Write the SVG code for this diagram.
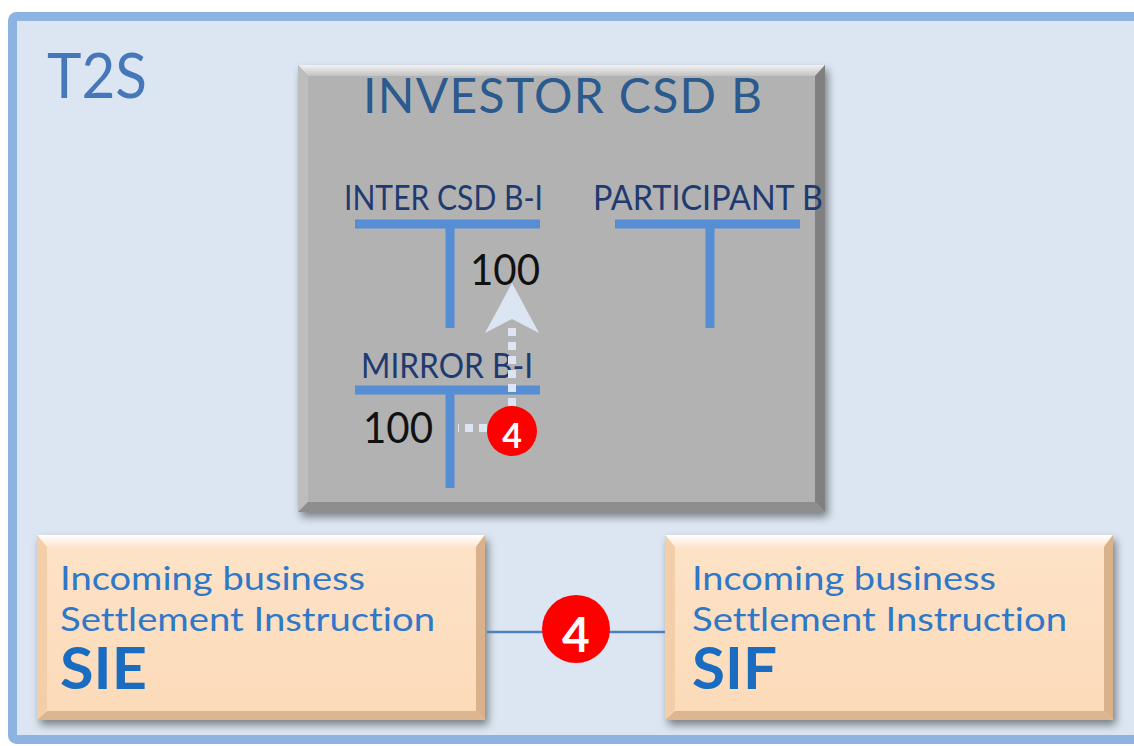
<svg xmlns="http://www.w3.org/2000/svg" width="1134" height="746" viewBox="0 0 1134 746">
  <defs>
    <style>
      text { font-variant-ligatures: none; }
      .lato { font-family: Lato, "Open Sans", "Liberation Sans", sans-serif; }
      .acct { font-family: Lato, "Liberation Sans", sans-serif; fill: #1f3a70; font-size: 34px; }
      .num { font-family: Lato, "Liberation Sans", sans-serif; fill: #111; font-size: 42px; }
      .peach-txt { font-family: Lato, "Liberation Sans", sans-serif; fill: #2f78c8; font-size: 32px; }
      .peach-big { font-family: Lato, "Liberation Sans", sans-serif; fill: #1a6cc0; font-size: 58px; font-weight: bold; }
      .tbar { stroke: #558ed5; stroke-width: 9; fill: none; }
      .badge { fill: #ff0000; }
      .badge-txt { font-family: Lato, "Liberation Sans", sans-serif; fill: #ffffff; font-weight: bold; text-anchor: middle; }
      .dotted { stroke: #dce6f2; stroke-width: 8; stroke-dasharray: 8 6; fill: none; }
    </style>
    <filter id="shadow" x="-10%" y="-10%" width="125%" height="130%">
      <feDropShadow dx="3" dy="5" stdDeviation="4" flood-color="#000" flood-opacity="0.45"/>
    </filter>
    <linearGradient id="grayTop" x1="0" y1="0" x2="0" y2="1">
      <stop offset="0" stop-color="#f2f2f2"/>
      <stop offset="1" stop-color="#c2c2c2"/>
    </linearGradient>
    <linearGradient id="peachFill" x1="0" y1="0" x2="0" y2="1">
      <stop offset="0" stop-color="#fde3c8"/>
      <stop offset="1" stop-color="#fcdab8"/>
    </linearGradient>
    <linearGradient id="peachTop" x1="0" y1="0" x2="0" y2="1">
      <stop offset="0" stop-color="#ffffff"/>
      <stop offset="1" stop-color="#fde6cf"/>
    </linearGradient>
  </defs>

  <rect x="0" y="0" width="1134" height="746" fill="#ffffff"/>

  <!-- T2S frame -->
  <g id="t2s">
    <rect x="12.5" y="16.5" width="1140" height="723" rx="4" fill="#dce6f2" stroke="#8db3e2" stroke-width="9"/>
    <text x="47" y="98" class="lato" font-size="62" fill="#4677b8" textLength="100" lengthAdjust="spacingAndGlyphs">T2S</text>
  </g>

  <!-- Investor CSD B -->
  <g id="investor-csd-b">
    <g filter="url(#shadow)">
      <rect x="298" y="65" width="527" height="447" fill="#b2b2b2"/>
    </g>
    <polygon points="298,65 825,65 815,76 308,76" fill="url(#grayTop)"/>
    <polygon points="298,65 308,76 308,502 298,512" fill="#bdbdbd"/>
    <polygon points="825,65 825,512 815,502 815,76" fill="#808080"/>
    <polygon points="298,512 825,512 815,502 308,502" fill="#8e8e8e"/>
    <text x="363" y="113" class="lato" font-size="48" fill="#2b5a8e" textLength="399" lengthAdjust="spacing">INVESTOR CSD B</text>
  </g>

  <g id="inter-csd-b-i">
    <text x="344" y="210" class="acct" textLength="199" lengthAdjust="spacingAndGlyphs">INTER CSD B-I</text>
    <path class="tbar" d="M355,224 H540 M450,224 V328"/>
    <text x="470" y="285" class="num" textLength="70" lengthAdjust="spacingAndGlyphs">100</text>
  </g>

  <g id="participant-b">
    <text x="593" y="210" class="acct" textLength="230" lengthAdjust="spacingAndGlyphs">PARTICIPANT B</text>
    <path class="tbar" d="M615,224 H800 M710,224 V328"/>
  </g>

  <g id="mirror-b-i">
    <text x="361" y="378" class="acct" font-size="32" textLength="172" lengthAdjust="spacingAndGlyphs">MIRROR B-I</text>
    <path class="tbar" d="M355,390 H540 M450,390 V488"/>
    <text x="363" y="443" class="num" textLength="70" lengthAdjust="spacingAndGlyphs">100</text>
  </g>

  <!-- SIE -->
  <g id="sie">
    <g filter="url(#shadow)">
      <rect x="37" y="535" width="448" height="185" fill="url(#peachFill)"/>
    </g>
    <polygon points="37,535 485,535 474,547 47,547" fill="url(#peachTop)"/>
    <polygon points="37,535 47,547 47,710 37,720" fill="#f3cfa9"/>
    <polygon points="485,535 485,720 476,711 476,547" fill="#d9b28c"/>
    <polygon points="37,720 485,720 476,711 47,711" fill="#dcb690"/>
    <text x="60" y="590" class="peach-txt" textLength="305" lengthAdjust="spacingAndGlyphs">Incoming business</text>
    <text x="60" y="631" class="peach-txt" textLength="375" lengthAdjust="spacingAndGlyphs">Settlement Instruction</text>
    <text x="60" y="689" class="peach-big" textLength="87" lengthAdjust="spacingAndGlyphs">SIE</text>
  </g>

  <!-- SIF -->
  <g id="sif">
    <g filter="url(#shadow)">
      <rect x="665" y="535" width="448" height="185" fill="url(#peachFill)"/>
    </g>
    <polygon points="665,535 1113,535 1102,547 675,547" fill="url(#peachTop)"/>
    <polygon points="665,535 675,547 675,710 665,720" fill="#f3cfa9"/>
    <polygon points="1113,535 1113,720 1104,711 1104,547" fill="#d9b28c"/>
    <polygon points="665,720 1113,720 1104,711 675,711" fill="#dcb690"/>
    <text x="692" y="590" class="peach-txt" textLength="304" lengthAdjust="spacingAndGlyphs">Incoming business</text>
    <text x="692" y="631" class="peach-txt" textLength="375" lengthAdjust="spacingAndGlyphs">Settlement Instruction</text>
    <text x="692" y="689" class="peach-big" textLength="85" lengthAdjust="spacingAndGlyphs">SIF</text>
  </g>

  <!-- Connectors -->
  <g id="connectors">
    <line x1="487" y1="632" x2="665" y2="632" stroke="#4f81bd" stroke-width="2.5"/>
    <line class="dotted" x1="487" y1="428" x2="458" y2="428"/>
    <line class="dotted" x1="512" y1="406" x2="512" y2="322"/>
    <polygon points="512,283 539,333 512,319 485,333" fill="#dce6f2"/>
  </g>

  <!-- Step badges -->
  <g id="badge-4-box">
    <circle class="badge" cx="512" cy="431" r="25"/>
    <text class="badge-txt" x="512" y="448" font-size="34">4</text>
  </g>
  <g id="badge-4-link">
    <circle class="badge" cx="576" cy="629" r="34"/>
    <text class="badge-txt" x="576" y="652" font-size="48">4</text>
  </g>
</svg>
